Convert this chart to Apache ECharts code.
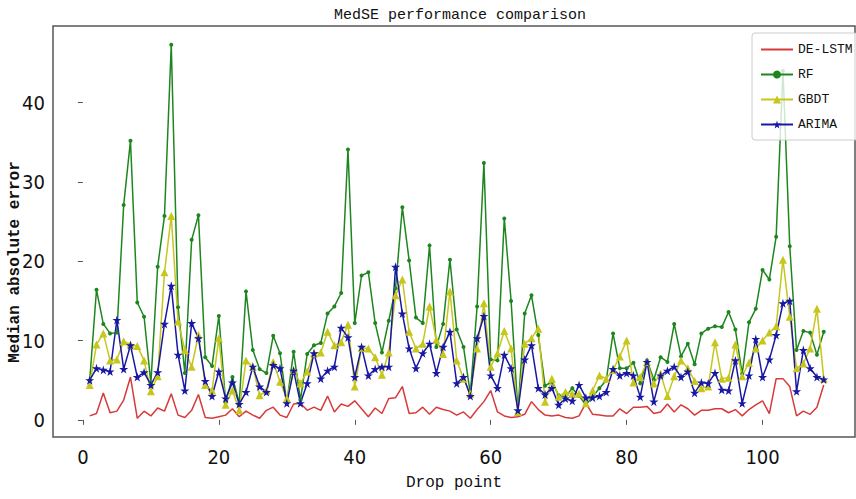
<!DOCTYPE html>
<html>
<head>
<meta charset="utf-8">
<script src="https://cdn.jsdelivr.net/npm/echarts@6/dist/echarts.min.js"></script>
<style>
html,body{margin:0;padding:0;background:#fff;}
#chart{width:856px;height:499px;}
</style>
</head>
<body>
<div id="chart"></div>
<script>
// ---- data (drop points 1..109) ----
const deLstm = [0.5,0.8,3.4,0.9,1.1,2.5,5.4,0.2,1.1,0.5,1.5,1.1,3.3,0.6,0.3,1.2,3.2,0.3,0.2,0.4,
0.6,1.4,0.4,1.1,0.6,0.2,1.2,1.6,0.6,0.3,2.0,2.1,1.2,1.6,1.2,3.0,1.0,2.0,1.7,2.4,
1.4,0.4,1.5,0.8,2.7,2.8,4.2,0.8,0.9,1.6,0.7,1.6,1.3,1.1,0.6,1.0,0.2,1.3,2.3,3.7,
1.0,0.5,0.3,0.4,0.7,2.3,1.3,0.6,0.5,0.6,0.3,0.2,0.5,2.1,0.7,0.6,0.5,0.5,1.4,0.8,
1.6,1.6,1.7,0.8,1.0,2.0,1.0,1.9,1.4,0.6,1.2,1.2,1.4,1.4,0.9,1.3,0.5,1.3,1.9,2.4,
0.8,5.2,5.2,4.2,0.5,1.1,0.7,1.6,4.4];
const rf = [5.0,16.4,12.1,10.9,11.0,27.1,35.2,14.8,13.0,4.6,19.3,25.7,47.3,14.2,5.9,22.7,25.8,7.9,6.8,13.1,
2.2,5.4,2.1,16.2,8.8,6.4,5.9,10.6,8.4,2.1,8.6,2.5,8.3,9.4,9.7,13.4,14.3,16.0,34.1,12.2,
18.2,18.6,12.2,8.5,12.5,16.6,26.8,20.1,12.9,12.2,22.0,9.2,12.1,20.2,11.4,9.2,3.3,14.3,32.4,7.6,
7.5,25.4,15.0,1.1,13.4,15.7,10.7,4.3,4.8,3.1,2.9,4.0,3.0,1.9,2.9,4.0,5.0,10.9,6.5,6.5,
7.2,4.6,7.5,5.1,7.9,7.3,12.1,8.0,9.6,7.0,10.9,11.5,11.8,11.7,13.6,11.4,5.8,12.3,14.0,18.9,
17.7,23.1,44.0,21.9,8.8,11.2,11.0,8.2,11.1];
const gbdt = [4.4,9.5,10.9,7.5,7.6,9.9,9.5,9.3,7.5,3.6,5.5,18.6,25.7,12.4,8.8,6.7,10.7,4.4,3.7,10.3,
1.9,3.7,1.2,7.5,6.7,3.1,3.7,7.3,4.8,2.7,6.3,4.6,6.1,8.4,8.5,11.1,9.4,9.8,12.0,4.2,
9.1,9.0,7.9,5.7,8.5,15.7,17.7,11.1,9.0,9.6,14.3,10.1,8.3,16.2,7.5,5.2,3.3,9.0,14.7,6.7,
8.4,11.2,9.0,1.0,9.6,10.3,11.5,2.3,5.2,2.9,3.5,3.3,3.3,2.1,3.7,5.6,5.2,6.3,8.0,10.0,
4.7,5.4,7.3,4.6,5.8,3.0,5.5,7.5,6.5,4.9,4.0,4.2,9.8,5.2,5.3,9.5,5.5,7.2,9.0,10.0,
11.0,11.8,20.2,13.0,6.5,7.1,9.0,14.0,5.2];
const arima = [5.0,6.5,6.3,6.1,12.6,6.4,9.4,5.4,6.0,4.4,6.0,12.1,16.9,8.2,3.7,12.2,10.3,4.9,3.0,6.1,
2.7,4.7,2.0,3.5,6.7,4.2,3.5,6.9,6.5,2.1,6.2,2.1,4.6,8.4,5.2,6.2,6.7,11.6,10.4,5.4,
9.2,5.6,6.4,6.7,6.7,19.3,13.4,9.0,6.5,8.4,9.6,5.9,9.2,11.1,4.6,5.4,3.0,10.3,13.1,5.6,
4.0,8.2,6.5,1.2,7.6,9.4,4.0,3.2,4.0,1.9,2.7,2.4,4.4,2.8,2.8,3.0,3.5,6.4,5.6,5.9,
5.6,2.9,7.3,2.3,5.6,6.2,6.7,5.4,6.1,3.4,4.7,4.6,5.9,3.8,3.7,7.5,2.1,5.6,10.2,5.4,
7.6,10.7,14.7,15.0,3.6,8.8,6.5,5.4,5.1];
const seriesNames = ['DE-LSTM','RF','GBDT','ARIMA'];
const xTicks = [0,20,40,60,80,100];
const yTicks = [0,10,20,30,40];

const dropPoints = [];
for (let i = 1; i <= deLstm.length; i++) dropPoints.push(i);
const pairs = arr => arr.map((v, k) => [dropPoints[k], v]);

const starPath = 'path://M50,0 L61,35 L98,35 L68,57 L79,91 L50,70 L21,91 L32,57 L2,35 L39,35 Z';
// plain line icon (bounding box 32x10 kept by two tiny corner specks)
const lineIcon = 'path://M0,0 L0.01,0 L0.01,0.01 Z M0,4 L32,4 L32,6 L0,6 Z M31.99,9.99 L32,10 L31.99,10 Z';
const mono = "'Liberation Mono','DejaVu Sans Mono',monospace";
const narrow = "'Liberation Sans Narrow','DejaVu Sans Condensed','Roboto Condensed','Liberation Sans',sans-serif";

const chart = echarts.init(document.getElementById('chart'), null, {renderer: 'svg'});
chart.setOption({
  animation: false,
  backgroundColor: '#fff',
  title: {
    text: 'MedSE performance comparison',
    left: 455, top: 3, textAlign: 'center',
    textStyle: {fontFamily: mono, fontSize: 15, fontWeight: 'normal', color: '#111'}
  },
  grid: {left: 53, right: 1, top: 26, bottom: 62, show: true, borderColor: '#555', borderWidth: 1.5, backgroundColor: 'transparent'},
  legend: {
    orient: 'vertical', left: 752, top: 33,
    data: [{name: seriesNames[0], icon: lineIcon, itemStyle: {color: '#d83a3a'}}, seriesNames[1], seriesNames[2], seriesNames[3]],
    backgroundColor: 'rgba(255,255,255,0.8)',
    borderColor: '#ccc', borderWidth: 1, borderRadius: 3,
    padding: [10, 5, 9, 8], itemGap: 12, itemWidth: 32, itemHeight: 10,
    textStyle: {fontFamily: mono, fontSize: 13, color: '#111'}
  },
  xAxis: {
    type: 'value', min: -4.4, max: 113.6,
    name: 'Drop point', nameLocation: 'middle', nameGap: 38,
    nameTextStyle: {fontFamily: mono, fontSize: 16, color: '#111'},
    axisLine: {show: false},
    axisTick: {show: true, inside: false, length: 5, customValues: xTicks, lineStyle: {color: '#555'}},
    axisLabel: {customValues: xTicks, fontFamily: narrow, fontSize: 20, color: '#111', margin: 10},
    splitLine: {show: false}
  },
  yAxis: {
    type: 'value', min: -2.16, max: 49.66,
    axisLine: {show: false},
    axisTick: {show: true, inside: false, length: 5, customValues: yTicks, lineStyle: {color: '#555'}},
    axisLabel: {customValues: yTicks, fontFamily: narrow, fontSize: 20, color: '#111', margin: 8},
    splitLine: {show: false}
  },
  graphic: [{
    type: 'text', x: 15, y: 262, rotation: Math.PI / 2,
    style: {text: 'Median absolute error', fontFamily: mono, fontSize: 16, fontWeight: 'bold', fill: '#111', textAlign: 'center', textVerticalAlign: 'middle'}
  }],
  series: [
    {name: 'DE-LSTM', type: 'line', data: pairs(deLstm), showSymbol: false, symbol: 'none',
     lineStyle: {color: '#d83a3a', width: 1.5}, itemStyle: {color: '#d83a3a'}},
    {name: 'RF', type: 'line', data: pairs(rf), symbol: 'circle', symbolSize: 4,
     lineStyle: {color: '#1e861e', width: 1.5}, itemStyle: {color: '#1e861e'}},
    {name: 'GBDT', type: 'line', data: pairs(gbdt), symbol: 'triangle', symbolSize: 8,
     lineStyle: {color: '#c6c61c', width: 1.5}, itemStyle: {color: '#c6c61c'}},
    {name: 'ARIMA', type: 'line', data: pairs(arima), symbol: starPath, symbolSize: 9,
     lineStyle: {color: '#1818a4', width: 1.5}, itemStyle: {color: '#1818a4'}}
  ]
});
</script>
</body>
</html>
